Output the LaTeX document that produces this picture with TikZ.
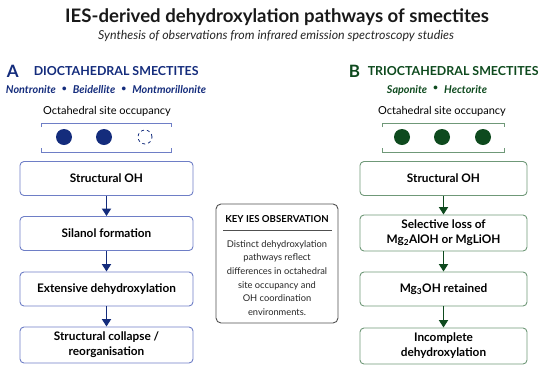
\documentclass[tikz,border=0pt]{standalone}
\usepackage{fontspec}
\setmainfont{Lato}
\usetikzlibrary{arrows.meta,positioning}
\definecolor{diblue}{HTML}{142C7C}
\definecolor{diedge}{HTML}{6E7EC6}
\definecolor{trigreen}{HTML}{0E4A1E}
\definecolor{triedge}{HTML}{6F9878}
\definecolor{keyedge}{HTML}{505050}
\newcommand{\fs}[2]{\fontsize{#1}{#2}\selectfont}
\newcommand{\sep}{\;\;\raisebox{0.4ex}{\scalebox{0.8}{\textbullet}}\;\;}
\begin{document}
\begin{tikzpicture}[x=1pt, y=-1pt, line width=0.9pt,
  stepbox/.style={draw, rounded corners=4pt, minimum height=34pt, align=center,
    text=black, font=\bfseries\fs{11.8}{15}, inner sep=2pt},
  dibox/.style={stepbox, draw=diedge, minimum width=173pt},
  tribox/.style={stepbox, draw=triedge, minimum width=167pt},
  flow/.style={line width=1.8pt, -{Triangle[width=9pt,length=7.5pt]}},
  site/.style={circle, minimum size=16pt, inner sep=0pt}]
  \useasboundingbox (0,0) rectangle (550,368);
  % title
  \node[font=\bfseries\fs{18.6}{22}, text=black!90] (title) at (277,17) {IES-derived dehydroxylation pathways of smectites};
  \node[font=\itshape\fs{12.4}{15}, text=black!85] (subtitle) at (276,36) {Synthesis of observations from infrared emission spectroscopy studies};
  % A: dioctahedral
  \node[font=\bfseries\fs{17}{20}, text=diblue, anchor=west] (labA) at (3,71) {A};
  \node[font=\bfseries\fs{12.4}{15}, text=diblue, anchor=west] (headA) at (30,71) {DIOCTAHEDRAL SMECTITES};
  \node[font=\bfseries\itshape\fs{10.8}{13}, text=diblue] (minA) at (106,90) {Nontronite\sep Beidellite\sep Montmorillonite};
  \node[font=\fs{11}{13}] (occA) at (107,111) {Octahedral site occupancy};
  \draw[diedge, line width=0.8pt] (41,127) -- (41,123) -- (171,123) -- (171,127);
  \draw[diedge, line width=0.8pt] (41,148) -- (41,152) -- (171,152) -- (171,148);
  \node[site, fill=diblue] (a1) at (64,137) {};
  \node[site, fill=diblue] (a2) at (104,137) {};
  \node[site, draw=diblue, dashed, line width=0.8pt, minimum size=14pt] (a3) at (145,137) {};
  \node[dibox] (s1) at (106.5,178.5) {Structural OH};
  \node[dibox] (s2) at (106.5,233.5) {Silanol formation};
  \node[dibox] (s3) at (106.5,289) {Extensive dehydroxylation};
  \node[dibox, minimum height=36pt] (s4) at (106.5,345) {Structural collapse /\\reorganisation};
  \foreach \u/\v in {s1/s2, s2/s3, s3/s4}
    \draw[flow, diblue] (\u) -- (\v);
  % B: trioctahedral
  \node[font=\bfseries\fs{17}{20}, text=trigreen, anchor=west] (labB) at (345,71) {B};
  \node[font=\bfseries\fs{12.4}{15}, text=trigreen, anchor=west] (headB) at (364,71) {TRIOCTAHEDRAL SMECTITES};
  \node[font=\bfseries\itshape\fs{10.8}{13}, text=trigreen] (minB) at (437,90) {Saponite\sep Hectorite};
  \node[font=\fs{11}{13}] (occB) at (442,111) {Octahedral site occupancy};
  \draw[triedge, line width=0.8pt] (382,127) -- (382,123) -- (504,123) -- (504,127);
  \draw[triedge, line width=0.8pt] (382,148) -- (382,152) -- (504,152) -- (504,148);
  \node[site, fill=trigreen] (b1) at (402,137) {};
  \node[site, fill=trigreen] (b2) at (442,137) {};
  \node[site, fill=trigreen] (b3) at (483,137) {};
  \node[tribox] (t1) at (443.5,178.5) {Structural OH};
  \node[tribox, minimum height=36pt] (t2) at (443.5,233) {Selective loss of\\Mg\textsubscript{2}AlOH or MgLiOH};
  \node[tribox] (t3) at (443.5,289) {Mg\textsubscript{3}OH retained};
  \node[tribox, minimum height=36pt] (t4) at (443.5,346) {Incomplete\\dehydroxylation};
  \foreach \u/\v in {t1/t2, t2/t3, t3/t4}
    \draw[flow, trigreen] (\u) -- (\v);
  % key observation
  \node[draw=keyedge, rounded corners=5pt, minimum width=122pt, minimum height=119pt] (key) at (277,263.5) {};
  \node[font=\bfseries\fs{9.6}{12}] (keyhead) at (277,219) {KEY IES OBSERVATION};
  \draw[keyedge, line width=0.7pt] (223,230) -- (332,230);
  \node[font=\fs{9.3}{13.6}, align=center, text=black!85] (keytext) at (277,278)
    {Distinct dehydroxylation\\pathways reflect\\differences in octahedral\\site occupancy and\\OH coordination\\environments.};
\end{tikzpicture}
\end{document}
